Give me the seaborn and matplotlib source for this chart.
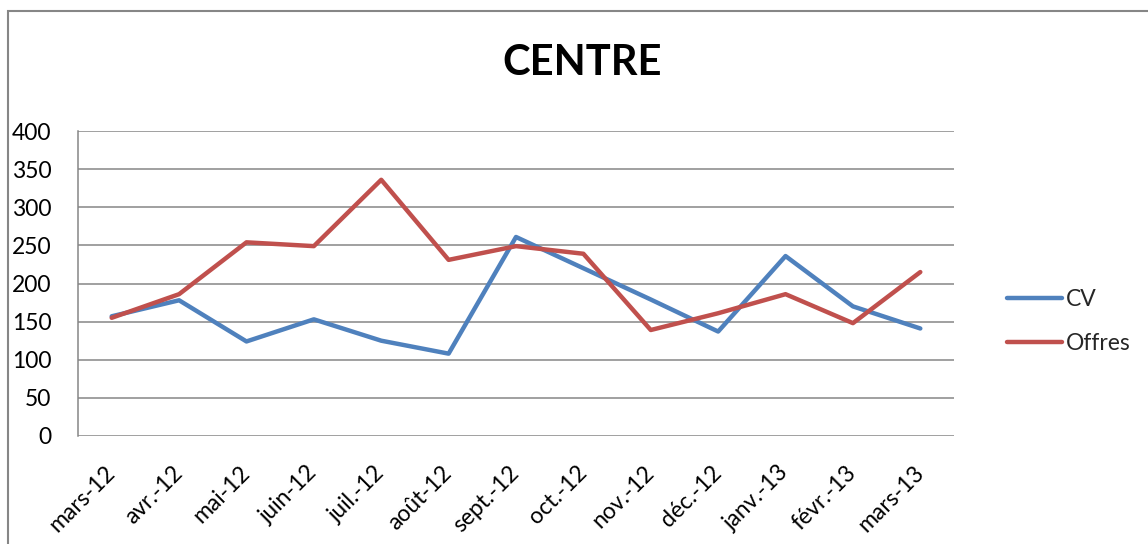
import matplotlib
matplotlib.use("Agg")
import matplotlib.pyplot as plt
from matplotlib.patches import Rectangle
import seaborn as sns
import pandas as pd

months = ["mars-12", "avr.-12", "mai-12", "juin-12", "juil.-12", "août-12", "sept.-12",
          "oct.-12", "nov.-12", "déc.-12", "janv.-13", "févr.-13", "mars-13"]
cv = [157, 178, 124, 153, 125, 108, 261, 220, 179, 137, 236, 170, 141]
offres = [155, 186, 254, 249, 336, 231, 249, 239, 139, 161, 186, 148, 215]
series_names = ["CV", "Offres"]
colors = ["#4F81BD", "#C0504D"]
title = "CENTRE"
yticks = [0, 50, 100, 150, 200, 250, 300, 350, 400]

df = pd.DataFrame({
    "mois": months * 2,
    "valeur": cv + offres,
    "serie": [series_names[0]] * len(months) + [series_names[1]] * len(months),
})

sns.set_theme(style="white")
plt.rcParams['font.family'] = ['Lato', 'DejaVu Sans']

fig = plt.figure(figsize=(11.48, 5.44), dpi=100)
fig.patch.set_facecolor("white")
ax = fig.add_axes([78/1148, 1-436/544, (954-78)/1148, (436-131)/544])

sns.lineplot(data=df, x="mois", y="valeur", hue="serie", palette=colors,
             linewidth=3.2, sort=False, ax=ax, legend=True)
for ln in ax.get_lines():
    ln.set_solid_capstyle("round")
    ln.set_solid_joinstyle("round")

ax.set_xlim(-0.5, len(months) - 0.5)
ax.set_ylim(0, 400)
ax.set_yticks(yticks)
ax.set_xlabel("")
ax.set_ylabel("")
ax.yaxis.grid(True, color="#868686", linewidth=1.1)
ax.xaxis.grid(False)
ax.set_axisbelow(True)
for s in ["top", "right", "bottom"]:
    ax.spines[s].set_visible(False)
ax.spines["left"].set_color("#868686")
ax.spines["left"].set_linewidth(1.1)

ax.tick_params(axis="y", length=0, pad=19, labelsize=16.5, labelcolor="#000000")
ax.tick_params(axis="x", length=0, pad=24, labelsize=16.5, labelcolor="#000000")
ax.set_xticks(range(len(months)))
ax.set_xticklabels(months, rotation=45, ha="right", va="center", rotation_mode="anchor")

handles, labels = ax.get_legend_handles_labels()
leg = ax.legend(handles, labels, loc="center left",
                bbox_to_anchor=(1007/1148, 1-321.5/544), bbox_transform=fig.transFigure,
                frameon=False, fontsize=16.5, handlelength=2.4, handletextpad=0.15,
                labelspacing=1.0, borderpad=0, borderaxespad=0)
for h in leg.get_lines():
    h.set_linewidth(3.2)
    h.set_solid_capstyle("round")

fig.text(582/1148, 1-63/544, title, ha="center", va="center",
         fontsize=30, fontweight="bold", color="#000000")

fig.patches.append(Rectangle((8/1148, -0.1), 1.2, 1-11/544+0.1,
                             transform=fig.transFigure, fill=False,
                             edgecolor="#868686", linewidth=1.5))

fig.savefig("out.png", dpi=100)
